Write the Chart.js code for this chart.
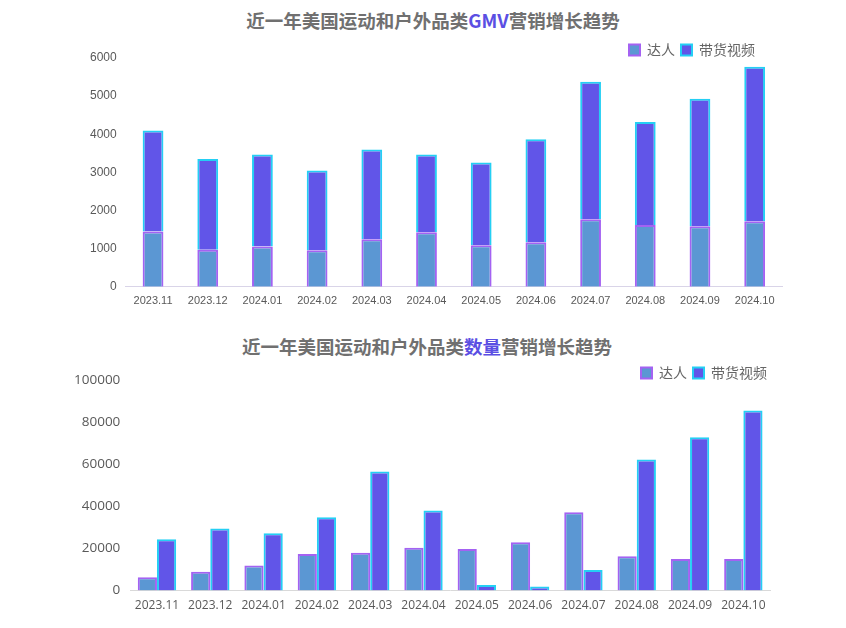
<!DOCTYPE html>
<html>
<head>
<meta charset="utf-8">
<script src="https://cdn.jsdelivr.net/npm/chart.js@4.4.1/dist/chart.umd.min.js"></script>
<style>
  body { margin: 0; background: #fff; width: 846px; height: 628px; position: relative; overflow: hidden; }
  .title {
    position: absolute; left: 0; width: 846px; text-align: center;
    font-family: "Noto Sans CJK SC", sans-serif; font-size: 18.5px; font-weight: 700; color: #707070;
  }
  .title span { color: #5b4fe3; }
  canvas { position: absolute; left: 0; }
</style>
</head>
<body>
<div class="title" style="top:7px;left:10px">近一年美国运动和户外品类<span>GMV</span>营销增长趋势</div>
<canvas id="gmvChart" width="846" height="290" style="top:32px"></canvas>
<div class="title" style="top:333px;left:4px">近一年美国运动和户外品类<span>数量</span>营销增长趋势</div>
<canvas id="qtyChart" width="846" height="270" style="top:358px"></canvas>

<script>
// Data

const months = ["2023.11", "2023.12", "2024.01", "2024.02", "2024.03", "2024.04",
                "2024.05", "2024.06", "2024.07", "2024.08", "2024.09", "2024.10"]

const gmvDaren = [1450, 970, 1060, 960, 1250, 1430, 1090, 1170, 1770, 1620, 1590, 1720]
const gmvVideo = [2650, 2380, 2410, 2090, 2350, 2040, 2170, 2700, 3610, 2700, 3340, 4050]

const qtyDaren = [6300, 9000, 11900, 17400, 18000, 20300, 19800, 22900, 37200, 16300, 15000, 15000]
const qtyVideo = [24400, 29450, 27200, 34800, 56500, 38000, 2700, 2000, 9800, 62200, 72800, 85500]

const darenFill = "#5b97d3"
const darenBorder = "#a462f2"
const videoFill = "#6155e8"
const videoBorder = "#24cff4"

const tickColor = "#595959"

// Legend tweak: let legend sit a bit over the plot top and move it sideways

const legendTweak = {
  id: "legendTweak",
  beforeInit(chart, args, opts) {
    const fit = chart.legend.fit
    chart.legend.fit = function () {
      fit.bind(chart.legend)()
      this.height -= opts.shrink || 0
    }
  },
  afterLayout(chart, args, opts) {
    chart.legend.right -= opts.shift || 0
  },
}

function legendOpts() {
  return {
    position: "top",
    align: "end",
    labels: {
      boxWidth: 11, boxHeight: 11, padding: 6,
      color: "#666",
      font: { family: "'Noto Sans CJK SC', sans-serif", size: 14 },
    },
  }
}

// GMV Chart (stacked)

new Chart(document.getElementById("gmvChart"), {
  type: "bar",
  plugins: [legendTweak],
  data: {
    labels: months,
    datasets: [
      { label: "达人", data: gmvDaren, backgroundColor: darenFill, borderColor: darenBorder, borderWidth: 2 },
      { label: "带货视频", data: gmvVideo, backgroundColor: videoFill, borderColor: videoBorder, borderWidth: 2 },
    ],
  },
  options: {
    responsive: false,
    animation: false,
    layout: { padding: { left: 81, right: 64, top: 5, bottom: 6 } },
    datasets: { bar: { barPercentage: 0.38, categoryPercentage: 1 } },
    plugins: {
      legend: legendOpts(),
      legendTweak: { shrink: 9, shift: 21 },
      tooltip: { enabled: false },
    },
    scales: {
      x: {
        stacked: true,
        grid: { display: false, drawTicks: false },
        border: { color: "#d9d4e8" },
        ticks: { color: tickColor, padding: 8, font: { family: "'Liberation Sans', sans-serif", size: 11 } },
      },
      y: {
        stacked: true,
        min: 0, max: 6000,
        grid: { display: false, drawTicks: false },
        border: { display: false },
        ticks: {
          stepSize: 1000, color: tickColor, padding: 9,
          font: { family: "'Liberation Sans', sans-serif", size: 12 },
          callback: (v) => v,
        },
      },
    },
  },
})

// Quantity Chart (grouped)

new Chart(document.getElementById("qtyChart"), {
  type: "bar",
  plugins: [legendTweak],
  data: {
    labels: months,
    datasets: [
      { label: "达人", data: qtyDaren, backgroundColor: darenFill, borderColor: darenBorder, borderWidth: 2 },
      { label: "带货视频", data: qtyVideo, backgroundColor: videoFill, borderColor: videoBorder, borderWidth: 2 },
    ],
  },
  options: {
    responsive: false,
    animation: false,
    layout: { padding: { left: 64, right: 76, top: 2, bottom: 7 } },
    datasets: { bar: { barPercentage: 1, categoryPercentage: 0.72 } },
    plugins: {
      legend: legendOpts(),
      legendTweak: { shrink: 10, shift: -3 },
      tooltip: { enabled: false },
    },
    scales: {
      x: {
        grid: { display: false, drawTicks: false },
        border: { color: "#d9d9d9" },
        ticks: { color: tickColor, padding: 8, font: { family: "'Open Sans', sans-serif", size: 12 } },
      },
      y: {
        min: 0, max: 100000,
        grid: { display: false, drawTicks: false },
        border: { display: false },
        ticks: {
          stepSize: 20000, color: tickColor, padding: 10,
          font: { family: "'Open Sans', sans-serif", size: 13.5 },
          callback: (v) => v,
        },
      },
    },
  },
})
</script>
</body>
</html>
